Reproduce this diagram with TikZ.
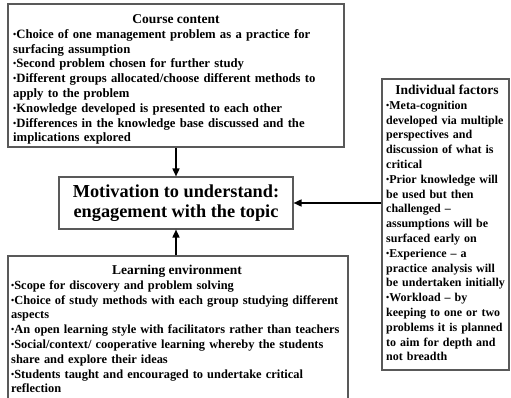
\documentclass[tikz,border=0pt]{standalone}
\usepackage{fontspec}
\setmainfont{Liberation Serif}
\usetikzlibrary{arrows.meta}
\newcommand\bul{\raisebox{0.9pt}{\fontsize{9}{9}\selectfont •}}
\begin{document}
\begin{tikzpicture}[x=1pt,y=-1pt,
  box/.style={draw=gray!70!black, line width=1.1pt, fill=white, inner sep=0pt, rectangle},
  body/.style={anchor=base west, inner sep=0pt, text width=400pt, align=left,
    font=\bfseries\fontsize{#1}{14.8}\selectfont},
  ttl/.style={anchor=base, inner sep=0pt, font=\bfseries\fontsize{13.5}{14.8}\selectfont},
  arr/.style={-{Triangle[length=8pt,width=7pt]}, line width=1.6pt, black}]
\useasboundingbox (0,0) rectangle (511,398);
% boxes
\node[box, minimum width=336pt, minimum height=143pt] (cc) at (176,75.5) {};
\node[box, minimum width=340pt, minimum height=174pt] (le) at (178,343) {};
\node[box, minimum width=127pt, minimum height=291pt] (ind) at (445.5,224.5) {};
\node[box, minimum width=234pt, minimum height=52pt, align=center,
  font=\bfseries\fontsize{18.3}{19.5}\selectfont] (mot) at (176,203)
  {Motivation to understand:\\engagement with the topic};
% course content
\node[ttl] (cct) at (176,23.5) {Course content};
\node[body=12.7] (ccb) at (13,38.3) {\bul Choice of one management problem as a practice for\\
surfacing assumption\\
\bul Second problem chosen for further study\\
\bul Different groups allocated/choose different methods to\\
apply to the problem\\
\bul Knowledge developed is presented to each other\\
\bul Differences in the knowledge base discussed and the\\
implications explored};
% learning environment
\node[ttl] (let) at (177,274.5) {Learning environment};
\node[body=12.4] (leb) at (11,289.3) {\bul Scope for discovery and problem solving\\
\bul Choice of study methods with each group studying different\\
aspects\\
\bul An open learning style with facilitators rather than teachers\\
\bul Social/context/ cooperative learning whereby the students\\
share and explore their ideas\\
\bul Students taught and encouraged to undertake critical\\
reflection};
% individual factors
\node[ttl] (indt) at (447,94.5) {Individual factors};
\node[body=12.0] (indb) at (386,109.3) {\bul Meta-cognition\\
developed via multiple\\
perspectives and\\
discussion of what is\\
critical\\
\bul Prior knowledge will\\
be used but then\\
challenged –\\
assumptions will be\\
surfaced early on\\
\bul Experience – a\\
practice analysis will\\
be undertaken initially\\
\bul Workload – by\\
keeping to one or two\\
problems it is planned\\
to aim for depth and\\
not breadth};
% connectors
\draw[arr] (cc.south) -- (mot.north);
\draw[arr] (le.north -| mot.south) -- (mot.south);
\draw[arr] (ind.west |- mot.east) -- (mot.east);
\end{tikzpicture}
\end{document}
